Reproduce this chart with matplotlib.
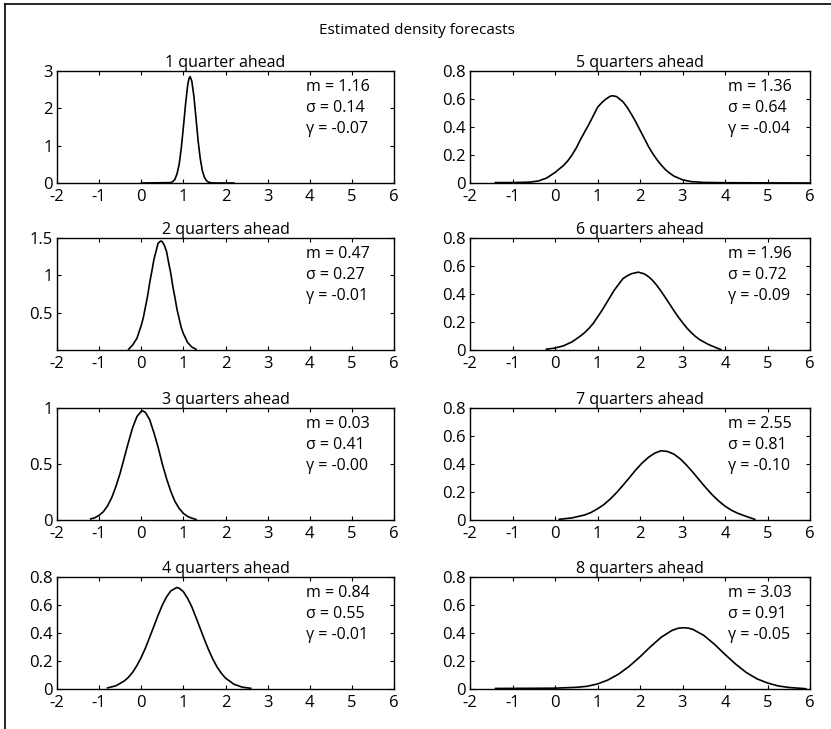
import matplotlib
matplotlib.use("Agg")
import matplotlib.pyplot as plt
from matplotlib.lines import Line2D

plt.rcParams['font.family'] = ['Open Sans', 'DejaVu Sans']
plt.rcParams['axes.unicode_minus'] = False

titles = ["1 quarter ahead", "2 quarters ahead", "3 quarters ahead", "4 quarters ahead",
          "5 quarters ahead", "6 quarters ahead", "7 quarters ahead", "8 quarters ahead"]
stats_m = ["1.16", "0.47", "0.03", "0.84", "1.36", "1.96", "2.55", "3.03"]
stats_s = ["0.14", "0.27", "0.41", "0.55", "0.64", "0.72", "0.81", "0.91"]
stats_g = ["-0.07", "-0.01", "-0.00", "-0.01", "-0.04", "-0.09", "-0.10", "-0.05"]

x1 = [0.0, 0.7, 0.75, 0.8, 0.85, 0.9, 0.95, 1.0, 1.05, 1.1, 1.13, 1.16, 1.2, 1.25, 1.3, 1.35, 1.4, 1.45, 1.5, 1.55, 1.6, 1.7, 2.2]
y1 = [0.0, 0.01, 0.04, 0.10, 0.25, 0.50, 0.93, 1.49, 2.09, 2.60, 2.79, 2.85, 2.73, 2.32, 1.73, 1.13, 0.66, 0.33, 0.15, 0.06, 0.02, 0.0, 0.0]

x2 = [-0.3, -0.2, -0.1, 0.0, 0.05, 0.1, 0.15, 0.2, 0.25, 0.3, 0.35, 0.4, 0.45, 0.47, 0.5, 0.55, 0.6, 0.65, 0.7, 0.75, 0.8, 0.85, 0.9, 0.95, 1.0, 1.1, 1.2, 1.3]
y2 = [0.01, 0.07, 0.16, 0.33, 0.435, 0.58, 0.72, 0.90, 1.05, 1.21, 1.32, 1.43, 1.455, 1.46, 1.45, 1.40, 1.32, 1.17, 1.03, 0.85, 0.70, 0.54, 0.42, 0.30, 0.22, 0.10, 0.04, 0.01]

x3 = [-1.2, -1.1, -1.0, -0.9, -0.8, -0.7, -0.6, -0.5, -0.4, -0.3, -0.2, -0.1, 0.0, 0.03, 0.1, 0.2, 0.3, 0.4, 0.5, 0.6, 0.7, 0.8, 0.9, 1.0, 1.1, 1.2, 1.3]
y3 = [0.01, 0.02, 0.042, 0.074, 0.126, 0.20, 0.30, 0.42, 0.56, 0.70, 0.83, 0.925, 0.97, 0.975, 0.96, 0.895, 0.78, 0.65, 0.50, 0.37, 0.257, 0.166, 0.103, 0.059, 0.032, 0.017, 0.005]

x4 = [-0.8, -0.6, -0.4, -0.3, -0.2, -0.1, 0.0, 0.1, 0.2, 0.3, 0.4, 0.5, 0.6, 0.7, 0.84, 0.9, 1.0, 1.1, 1.2, 1.3, 1.4, 1.5, 1.6, 1.7, 1.8, 1.9, 2.0, 2.2, 2.4, 2.6]
y4 = [0.008, 0.023, 0.058, 0.085, 0.121, 0.169, 0.226, 0.293, 0.37, 0.448, 0.527, 0.599, 0.658, 0.70, 0.725, 0.72, 0.695, 0.648, 0.587, 0.511, 0.432, 0.353, 0.279, 0.213, 0.157, 0.113, 0.078, 0.034, 0.013, 0.005]

x5 = [-1.4, -1.0, -0.6, -0.4, -0.2, 0.0, 0.1, 0.2, 0.3, 0.4, 0.5, 0.6, 0.7, 0.8, 0.9, 1.0, 1.1, 1.2, 1.3, 1.36, 1.45, 1.6, 1.7, 1.8, 1.9, 2.0, 2.1, 2.2, 2.3, 2.4, 2.5, 2.6, 2.7, 2.8, 3.0, 3.2, 3.5, 4.0, 6.0]
y5 = [0.003, 0.003, 0.006, 0.014, 0.035, 0.075, 0.10, 0.125, 0.158, 0.20, 0.25, 0.31, 0.366, 0.42, 0.48, 0.54, 0.574, 0.60, 0.62, 0.623, 0.617, 0.58, 0.54, 0.49, 0.437, 0.378, 0.32, 0.26, 0.21, 0.166, 0.128, 0.095, 0.07, 0.049, 0.023, 0.010, 0.004, 0.002, 0.0]

x6 = [-0.2, 0.0, 0.2, 0.4, 0.6, 0.7, 0.8, 0.9, 1.0, 1.1, 1.2, 1.3, 1.4, 1.5, 1.6, 1.7, 1.8, 1.96, 2.1, 2.2, 2.3, 2.4, 2.5, 2.6, 2.7, 2.8, 2.9, 3.0, 3.1, 3.2, 3.3, 3.4, 3.6, 3.8, 3.9]
y6 = [0.006, 0.014, 0.030, 0.058, 0.10, 0.125, 0.155, 0.19, 0.235, 0.28, 0.33, 0.38, 0.43, 0.47, 0.51, 0.53, 0.545, 0.556, 0.544, 0.524, 0.496, 0.46, 0.418, 0.373, 0.327, 0.28, 0.236, 0.196, 0.158, 0.126, 0.098, 0.075, 0.041, 0.015, 0.004]

x7 = [0.1, 0.4, 0.7, 0.85, 1.0, 1.15, 1.3, 1.45, 1.6, 1.75, 1.9, 2.05, 2.2, 2.35, 2.5, 2.65, 2.8, 2.95, 3.1, 3.25, 3.4, 3.55, 3.7, 3.85, 4.0, 4.15, 4.3, 4.45, 4.6, 4.7]
y7 = [0.005, 0.015, 0.036, 0.054, 0.08, 0.11, 0.15, 0.196, 0.248, 0.302, 0.358, 0.407, 0.448, 0.478, 0.495, 0.489, 0.47, 0.436, 0.39, 0.339, 0.284, 0.23, 0.18, 0.136, 0.099, 0.07, 0.048, 0.031, 0.015, 0.005]

x8 = [-1.4, -0.5, 0.0, 0.5, 0.75, 1.0, 1.25, 1.5, 1.75, 2.0, 2.25, 2.5, 2.75, 2.9, 3.03, 3.15, 3.25, 3.5, 3.75, 4.0, 4.25, 4.5, 4.75, 5.0, 5.25, 5.5, 5.9]
y8 = [0.004, 0.005, 0.006, 0.012, 0.019, 0.036, 0.065, 0.107, 0.163, 0.23, 0.303, 0.37, 0.418, 0.434, 0.438, 0.434, 0.425, 0.383, 0.32, 0.247, 0.178, 0.118, 0.073, 0.043, 0.022, 0.011, 0.002]

xs = [x1, x2, x3, x4, x5, x6, x7, x8]
ys = [y1, y2, y3, y4, y5, y6, y7, y8]

ylims = [3, 1.5, 1, 0.8, 0.8, 0.8, 0.8, 0.8]
yticks = [[0, 1, 2, 3], [0.5, 1, 1.5], [0, 0.5, 1], [0, 0.2, 0.4, 0.6, 0.8],
          [0, 0.2, 0.4, 0.6, 0.8], [0, 0.2, 0.4, 0.6, 0.8], [0, 0.2, 0.4, 0.6, 0.8], [0, 0.2, 0.4, 0.6, 0.8]]
ytick_labels = [["0", "1", "2", "3"], ["0.5", "1", "1.5"], ["0", "0.5", "1"],
                ["0", "0.2", "0.4", "0.6", "0.8"], ["0", "0.2", "0.4", "0.6", "0.8"],
                ["0", "0.2", "0.4", "0.6", "0.8"], ["0", "0.2", "0.4", "0.6", "0.8"],
                ["0", "0.2", "0.4", "0.6", "0.8"]]
xticks = [-2, -1, 0, 1, 2, 3, 4, 5, 6]
xtick_labels = ["-2", "-1", "0", "1", "2", "3", "4", "5", "6"]

fig = plt.figure(figsize=(8.31, 7.29), dpi=100)

W, H = 831, 729
col_lefts = [57, 470]
col_widths = [337, 340]
row_tops = [71, 238, 408, 577]
row_h = 112

for i in range(8):
    col = i // 4
    row = i % 4
    left = col_lefts[col] / W
    bottom = 1 - (row_tops[row] + row_h) / H
    ax = fig.add_axes([left, bottom, col_widths[col] / W, row_h / H])
    ax.plot(xs[i], ys[i], color='black', lw=1.2)
    ax.set_xlim(-2, 6)
    ax.set_ylim(0, ylims[i])
    ax.set_xticks(xticks)
    ax.set_xticklabels(xtick_labels)
    ax.set_yticks(yticks[i])
    ax.set_yticklabels(ytick_labels[i])
    ax.tick_params(direction='in', top=True, right=True, length=3, width=0.8,
                   labelsize=12)
    ax.tick_params(axis='x', pad=4)
    ax.tick_params(axis='y', pad=3)
    for sp in ax.spines.values():
        sp.set_linewidth(1.0)
    ax.set_title(titles[i], fontsize=11.5, pad=3)
    tx = 0.74 if col == 0 else 0.76
    ax.text(tx, 0.855, "m = " + stats_m[i], transform=ax.transAxes, fontsize=11.5, va='center')
    ax.text(tx, 0.67, "σ = " + stats_s[i], transform=ax.transAxes, fontsize=11.5, va='center')
    ax.text(tx, 0.485, "γ = " + stats_g[i], transform=ax.transAxes, fontsize=11.5, va='center')

fig.text(417 / W, 1 - 30 / H, "Estimated density forecasts", ha='center', va='center', fontsize=11)

# page frame lines
fig.add_artist(Line2D([5 / W, 1.0], [1 - 4 / H, 1 - 4 / H], color='black', lw=1.2, transform=fig.transFigure))
fig.add_artist(Line2D([5 / W, 5 / W], [0.0, 1 - 4 / H], color='black', lw=1.2, transform=fig.transFigure))

fig.savefig("out.png", dpi=100)
